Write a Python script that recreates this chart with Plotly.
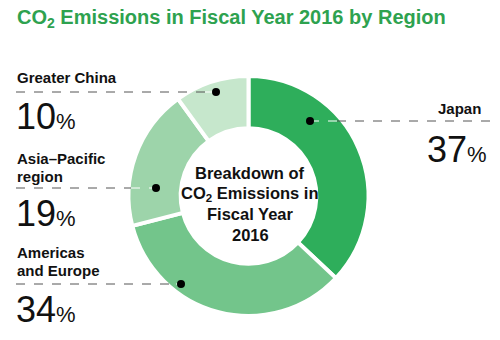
import plotly.graph_objects as go

# ---- data ----
regions = ["Japan", "Americas and Europe", "Asia\u2013Pacific region", "Greater China"]
shares = [37, 34, 19, 10]
colors = ["#2EAE5B", "#73C58B", "#9DD4AA", "#C6E7CC"]
title = "CO<sub>2</sub> Emissions in Fiscal Year 2016 by Region"
center_lines = ["Breakdown of", "CO<sub>2</sub> Emissions in", "Fiscal Year", "2016"]

W, H = 500, 340
CX, CY, R = 248.5, 196, 120


def px(x, y):
    return x / W, 1 - y / H


fig = go.Figure()
fig.add_trace(go.Pie(
    labels=regions, values=shares, sort=False, direction="clockwise", rotation=0,
    hole=0.565, marker=dict(colors=colors, line=dict(color="white", width=4)),
    textinfo="none", hoverinfo="skip", showlegend=False,
    domain=dict(x=[(CX - R) / W, (CX + R) / W], y=[1 - (CY + R) / H, 1 - (CY - R) / H]),
))

ann = []
shapes = []
FAM = "Liberation Sans, Arial, sans-serif"
LBL = dict(family=FAM, size=15, color="#111111", weight="bold")
NUM = dict(family=FAM, size=36, color="#111111")


def text(x, y, s, font, xanchor="left"):
    xx, yy = px(x, y)
    ann.append(dict(x=xx, y=yy, xref="paper", yref="paper", text=s, showarrow=False,
                    xanchor=xanchor, yanchor="middle", font=font))


def pct(v):
    return f"{v}<span style='font-size:22px'>%</span>"


def leader(x0, x1, y, xin0, xin1, dot):
    a0, b = px(x0, y)
    a1, _ = px(x1, y)
    shapes.append(dict(type="line", xref="paper", yref="paper", x0=a0, x1=a1, y0=b, y1=b,
                       line=dict(color="#555555", width=1, dash="dash")))
    c0, _ = px(xin0, y)
    c1, _ = px(xin1, y)
    shapes.append(dict(type="line", xref="paper", yref="paper", x0=c0, x1=c1, y0=b, y1=b,
                       line=dict(color="white", width=1, dash="dash")))
    r = 4
    shapes.append(dict(type="circle", xref="paper", yref="paper",
                       x0=(dot - r) / W, x1=(dot + r) / W, y0=1 - (y + r) / H, y1=1 - (y - r) / H,
                       fillcolor="black", line=dict(width=0)))


# title
text(15, 18, title, dict(family=FAM, size=20, color="#2EA24F", weight="bold"))

# Greater China
text(15, 78, "Greater China", LBL)
leader(16, 205, 92, 205, 216, 216)
text(14, 116, pct(shares[3]), NUM)

# Asia-Pacific
text(15, 158, "Asia\u2013Pacific", LBL)
text(15, 176, "region", LBL)
leader(16, 131, 188, 131, 156, 156)
text(14, 213, pct(shares[2]), NUM)

# Americas and Europe
text(15, 252, "Americas", LBL)
text(15, 270, "and Europe", LBL)
leader(16, 176, 284, 176, 181, 181)
text(14, 309, pct(shares[1]), NUM)

# Japan
text(483, 108, "Japan", LBL, xanchor="right")
leader(337, 490, 121, 310, 337, 310)
text(489, 149, pct(shares[0]), NUM, xanchor="right")

# center text
for i, s in enumerate(center_lines):
    text(250, 173 + i * 20.7, s, dict(family=FAM, size=16.5, color="#111111", weight="bold"),
         xanchor="center")

fig.update_layout(width=W, height=H, margin=dict(l=0, r=0, t=0, b=0),
                  paper_bgcolor="white", plot_bgcolor="white",
                  annotations=ann, shapes=shapes)
fig.write_html("out.html")
